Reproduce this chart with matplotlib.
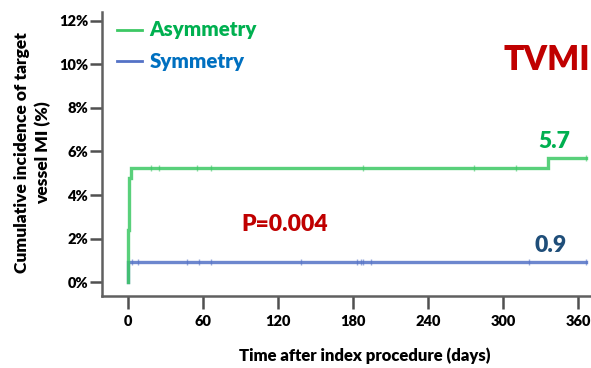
import numpy as np
import matplotlib.pyplot as plt

plt.rcParams['font.family'] = ['Lato', 'DejaVu Sans']
plt.rcParams['font.weight'] = 'heavy'

# Kaplan-Meier step data (days, cumulative incidence %)
asym_days = [0, 0, 0.6, 2, 336, 366]
asym_pct = [0, 2.4, 4.8, 5.25, 5.7, 5.7]
asym_censor = [18, 25, 55, 66, 188, 277, 310, 366]

sym_days = [0, 0, 366]
sym_pct = [0, 0.9, 0.9]
sym_censor = [3, 8, 47, 57, 66, 138, 183, 186, 188, 194, 321, 366]

x_ticks = [0, 60, 120, 180, 240, 300, 360]
y_ticks = [0, 2, 4, 6, 8, 10, 12]

green = '#3cc864'
blue = '#5472c6'

fig = plt.figure(figsize=(5.91, 3.68), dpi=100)
ax = fig.add_axes([0.1726, 0.1957, 0.8274, 0.7717])


def step_at(days, pct, t):
    idx = np.searchsorted(days, t, side='right') - 1
    return pct[idx]


for days, pct, cens, col in [(asym_days, asym_pct, asym_censor, green),
                             (sym_days, sym_pct, sym_censor, blue)][::-1]:
    ax.step(days, pct, where='post', color=col, lw=2.4, alpha=0.85,
            solid_joinstyle='miter')
    cy = [step_at(np.array(days), pct, c) for c in cens]
    ax.plot(cens, cy, ls='none', marker='|', ms=5, mew=1, color=col, alpha=0.6)

ax.set_xlim(-20.8, 370.4)
ax.set_ylim(-0.64, 12.41)
ax.set_xticks(x_ticks)
ax.set_yticks(y_ticks)
ax.set_yticklabels(['%d%%' % v for v in y_ticks])
for s in ['top', 'right']:
    ax.spines[s].set_visible(False)
for s in ['left', 'bottom']:
    ax.spines[s].set_color('#606060')
    ax.spines[s].set_linewidth(1.8)
ax.tick_params(axis='both', colors='#505050', width=1.8, length=9,
               labelcolor='black', labelsize=10.5)
ax.tick_params(axis='x', pad=5)
ax.tick_params(axis='y', pad=1)
for lbl in ax.get_xticklabels() + ax.get_yticklabels():
    lbl.set_fontweight('heavy')

# legend drawn by hand
for y, lab, lc, tc in [(11.6, 'Asymmetry', green, '#00b050'),
                       (10.15, 'Symmetry', blue, '#0070c0')]:
    ax.plot([-9, 11], [y, y], color=lc, lw=2)
    ax.text(17, y, lab, color=tc, fontsize=14.8, va='center', fontweight='heavy')

ax.text(370, 10.2, 'TVMI', color='#c00000', fontsize=24, ha='right',
        va='center', fontweight='heavy')
ax.text(125, 2.65, 'P=0.004', color='#c00000', fontsize=16.5, ha='center',
        va='center', fontweight='heavy')
ax.text(341, asym_pct[-1] + 0.75, '%.1f' % asym_pct[-1], color='#00b050',
        fontsize=16.5, ha='center', va='center', fontweight='heavy')
ax.text(338, sym_pct[-1] + 0.8, '%.1f' % sym_pct[-1], color='#1f4e79',
        fontsize=16.5, ha='center', va='center', fontweight='heavy')

fig.text(0.055, 0.585, 'Cumulative incidence of target\nvessel MI (%)',
         rotation=90, ha='center', va='center', fontsize=12.5,
         fontweight='heavy', linespacing=1.35)
fig.text(0.618, 0.032, 'Time after index procedure (days)', ha='center',
         va='center', fontsize=12, fontweight='heavy')

fig.savefig('out.png', dpi=100)
